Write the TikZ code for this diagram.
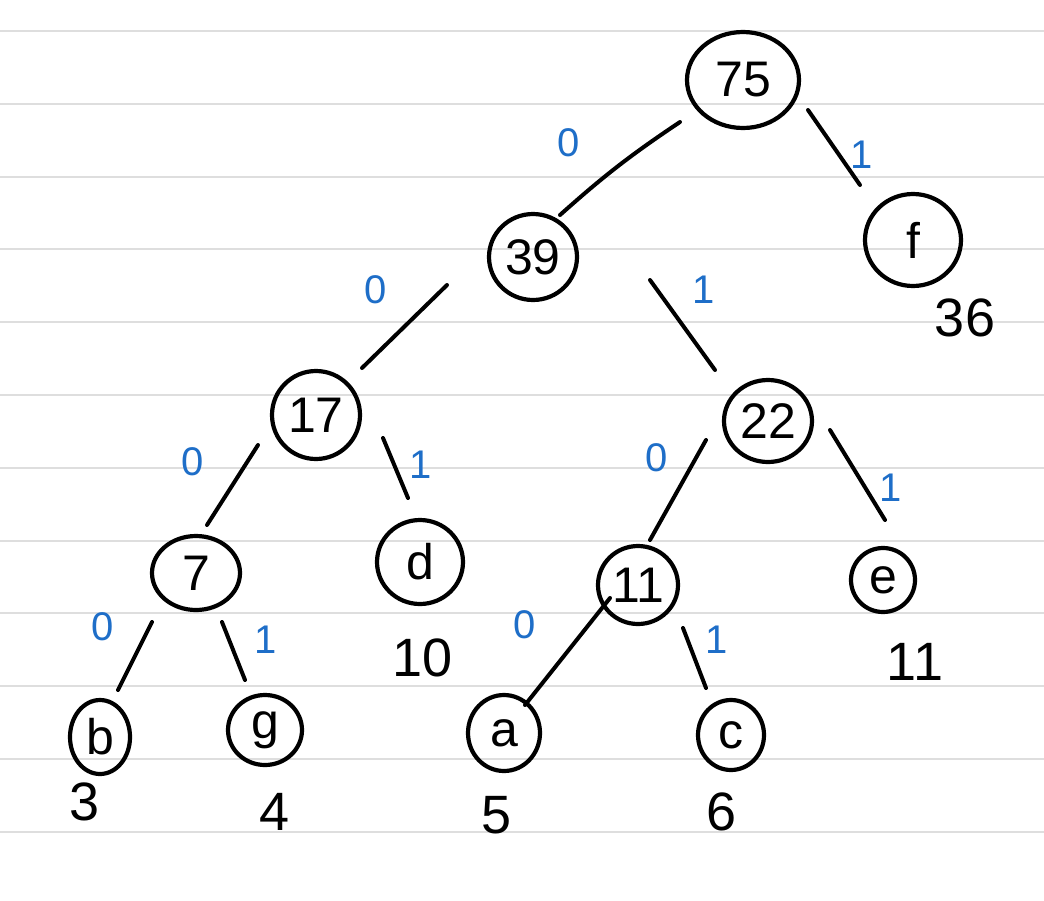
\documentclass[tikz,border=0pt]{standalone}
\usepackage{fontspec}
\setmainfont{Liberation Sans}
\usetikzlibrary{shapes.geometric}
\definecolor{inkblue}{RGB}{30,110,200}
\definecolor{ruleline}{RGB}{222,222,222}
\begin{document}
\begin{tikzpicture}[x=1pt,y=-1pt,
  vtx/.style={draw, ellipse, line width=4.2pt, inner sep=0pt, outer sep=0pt,
              font=\fontsize{50}{50}\selectfont},
  edge/.style={line width=4pt, line cap=round},
  bit/.style={text=inkblue, font=\fontsize{40}{40}\selectfont},
  wt/.style={font=\fontsize{54}{54}\selectfont}
]
% paper with ruled lines
\fill[white] (0,0) rectangle (1044,900);
\useasboundingbox (0,0) rectangle (1044,900);
\foreach \k in {0,...,11}
  \draw[ruleline, line width=2pt] (0,31+72.8*\k) -- (1044,31+72.8*\k);

% tree nodes
\node[vtx, minimum width=112pt, minimum height=96pt] (n75) at (743,80) {75};
\node[vtx, minimum width=88pt, minimum height=86pt] (n39) at (533,257) {39};
\node[vtx, minimum width=96pt, minimum height=92pt] (nf) at (913,240) {f};
\node[vtx, minimum width=88pt, minimum height=88pt] (n17) at (316,415) {17};
\node[vtx, minimum width=88pt, minimum height=82pt] (n22) at (768,421) {22};
\node[vtx, minimum width=88pt, minimum height=74pt] (n7) at (196,573) {7};
\node[vtx, minimum width=86pt, minimum height=84pt] (nd) at (420,562) {d};
\node[vtx, minimum width=80pt, minimum height=78pt] (n11) at (638,585) {11};
\node[vtx, minimum width=64pt, minimum height=64pt] (ne) at (883,580) {e};
\node[vtx, minimum width=60pt, minimum height=74pt] (nb) at (100,737) {b};
\node[vtx, minimum width=74pt, minimum height=70pt] (ng) at (265,730) {g};
\node[vtx, minimum width=72pt, minimum height=76pt] (na) at (504,733) {a};
\node[vtx, minimum width=66pt, minimum height=70pt] (nc) at (731,735) {c};

% weights under the leaves
\node[wt] (w36) at (965,318) {36};
\node[wt] (w10) at (423,658) {10};
\node[wt] (w11) at (915,662) {11};
\node[wt] (w3) at (85,802) {3};
\node[wt] (w4) at (275,812) {4};
\node[wt] (w5) at (497,815) {5};
\node[wt] (w6) at (722,812) {6};

% branches, each set off a little from the circles
\draw[edge] ([shift={(-63,42)}]n75.center) to[bend right=4] ([shift={(27,-42)}]n39.center);
\draw[edge] ([shift={(65,30)}]n75.center) -- ([shift={(-53,-55)}]nf.center);
\draw[edge] ([shift={(-86,28)}]n39.center) -- ([shift={(46,-47)}]n17.center);
\draw[edge] ([shift={(117,23)}]n39.center) -- ([shift={(-53,-51)}]n22.center);
\draw[edge] ([shift={(-58,30)}]n17.center) -- ([shift={(11,-48)}]n7.center);
\draw[edge] ([shift={(67,23)}]n17.center) -- ([shift={(-12,-64)}]nd.center);
\draw[edge] ([shift={(-62,19)}]n22.center) -- ([shift={(12,-45)}]n11.center);
\draw[edge] ([shift={(62,9)}]n22.center) -- ([shift={(2,-60)}]ne.center);
\draw[edge] ([shift={(-44,49)}]n7.center) -- ([shift={(18,-47)}]nb.center);
\draw[edge] ([shift={(26,49)}]n7.center) -- ([shift={(-20,-50)}]ng.center);
\draw[edge] ([shift={(-28,13)}]n11.center) -- ([shift={(21,-28)}]na.center);
\draw[edge] ([shift={(45,43)}]n11.center) -- ([shift={(-25,-47)}]nc.center);

% branch bits
\node[bit] (b1) at (569,143) {0};
\node[bit] (b2) at (862,155) {1};
\node[bit] (b3) at (376,290) {0};
\node[bit] (b4) at (704,290) {1};
\node[bit] (b5) at (193,462) {0};
\node[bit] (b6) at (421,465) {1};
\node[bit] (b7) at (657,458) {0};
\node[bit] (b8) at (891,488) {1};
\node[bit] (b9) at (103,627) {0};
\node[bit] (b10) at (266,640) {1};
\node[bit] (b11) at (525,625) {0};
\node[bit] (b12) at (717,640) {1};
\end{tikzpicture}
\end{document}
